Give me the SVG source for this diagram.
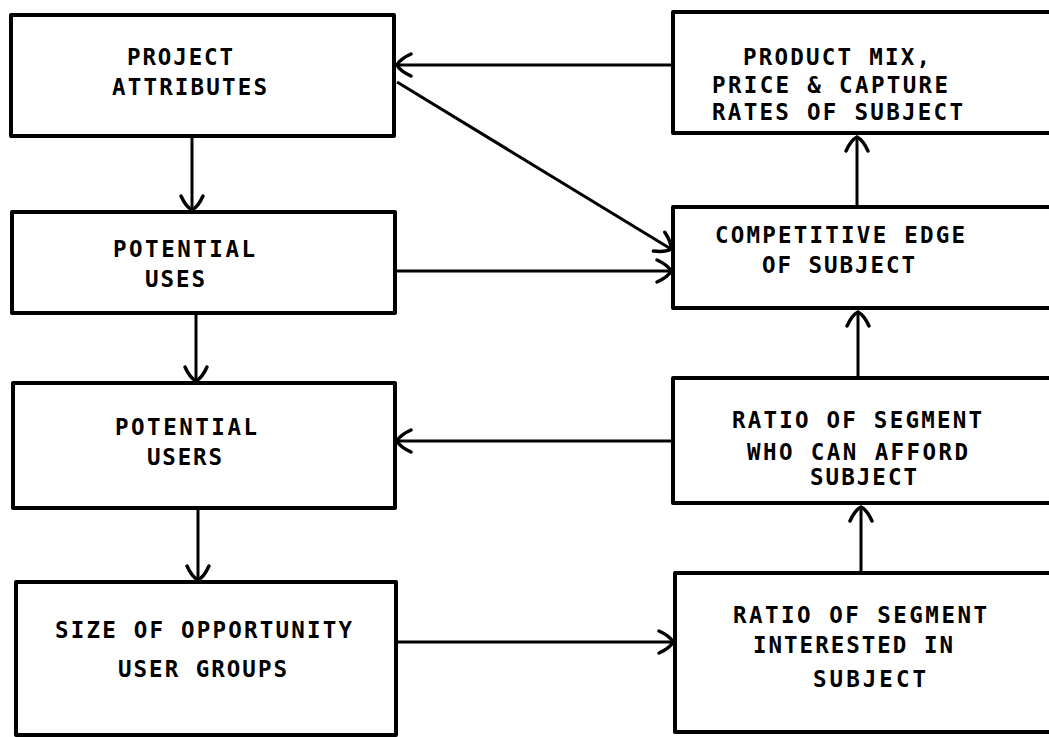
<svg xmlns="http://www.w3.org/2000/svg" width="1049" height="737" viewBox="0 0 1049 737">
  <defs>
    <style>
      .box { fill: #fff; stroke: #000; stroke-width: 4; stroke-linejoin: round; }
      .lbl { font-family: "DejaVu Sans Mono", "Liberation Mono", monospace; font-weight: bold; font-size: 22.5px; fill: #000; }
      .conn { fill: none; stroke: #000; stroke-width: 3; marker-end: url(#barb); }
    </style>
    <marker id="barb" viewBox="-18 -14 20 28" refX="0" refY="0" markerWidth="20" markerHeight="28" markerUnits="userSpaceOnUse" orient="auto">
      <path d="M-14,-11 Q-3,-6 0,0 Q-3,6 -14,11" fill="none" stroke="#000" stroke-width="3.5" stroke-linecap="round"/>
    </marker>
  </defs>
  <rect width="1049" height="737" fill="#fff"/>

  <g id="connectors">
    <line class="conn" x1="673" y1="65" x2="397" y2="65"/>
    <line class="conn" x1="397" y1="82" x2="671" y2="249"/>
    <line class="conn" x1="397" y1="271" x2="671" y2="271"/>
    <line class="conn" x1="857" y1="207" x2="857" y2="137"/>
    <line class="conn" x1="858" y1="378" x2="858" y2="312"/>
    <line class="conn" x1="673" y1="441" x2="397" y2="441"/>
    <line class="conn" x1="861" y1="573" x2="861" y2="507"/>
    <line class="conn" x1="192" y1="136" x2="192" y2="210"/>
    <line class="conn" x1="196" y1="313" x2="196" y2="381"/>
    <line class="conn" x1="198" y1="508" x2="198" y2="580"/>
    <line class="conn" x1="397" y1="642" x2="673" y2="642"/>
  </g>

  <g id="project-attributes">
    <rect class="box" x="11" y="15" width="383" height="121"/>
    <text class="lbl" x="127" y="65" textLength="106" lengthAdjust="spacing">PROJECT</text>
    <text class="lbl" x="112" y="95" textLength="155" lengthAdjust="spacing">ATTRIBUTES</text>
  </g>

  <g id="product-mix">
    <rect class="box" x="673" y="12" width="400" height="121"/>
    <text class="lbl" x="743" y="65" textLength="187" lengthAdjust="spacing">PRODUCT MIX,</text>
    <text class="lbl" x="712" y="93" textLength="236" lengthAdjust="spacing">PRICE &amp; CAPTURE</text>
    <text class="lbl" x="712" y="120" textLength="251" lengthAdjust="spacing">RATES OF SUBJECT</text>
  </g>

  <g id="potential-uses">
    <rect class="box" x="12" y="212" width="383" height="101"/>
    <text class="lbl" x="113" y="257" textLength="142" lengthAdjust="spacing">POTENTIAL</text>
    <text class="lbl" x="145" y="287" textLength="60" lengthAdjust="spacing">USES</text>
  </g>

  <g id="competitive-edge">
    <rect class="box" x="673" y="207" width="400" height="101"/>
    <text class="lbl" x="715" y="243" textLength="250" lengthAdjust="spacing">COMPETITIVE EDGE</text>
    <text class="lbl" x="762" y="273" textLength="153" lengthAdjust="spacing">OF SUBJECT</text>
  </g>

  <g id="potential-users">
    <rect class="box" x="13" y="383" width="382" height="125"/>
    <text class="lbl" x="115" y="435" textLength="142" lengthAdjust="spacing">POTENTIAL</text>
    <text class="lbl" x="147" y="465" textLength="75" lengthAdjust="spacing">USERS</text>
  </g>

  <g id="ratio-afford">
    <rect class="box" x="673" y="378" width="400" height="125"/>
    <text class="lbl" x="732" y="428" textLength="250" lengthAdjust="spacing">RATIO OF SEGMENT</text>
    <text class="lbl" x="747" y="460" textLength="221" lengthAdjust="spacing">WHO CAN AFFORD</text>
    <text class="lbl" x="810" y="485" textLength="107" lengthAdjust="spacing">SUBJECT</text>
  </g>

  <g id="opportunity-size">
    <rect class="box" x="16" y="582" width="380" height="153"/>
    <text class="lbl" x="55" y="638" textLength="297" lengthAdjust="spacing">SIZE OF OPPORTUNITY</text>
    <text class="lbl" x="118" y="677" textLength="169" lengthAdjust="spacing">USER GROUPS</text>
  </g>

  <g id="ratio-interested">
    <rect class="box" x="675" y="573" width="400" height="159"/>
    <text class="lbl" x="733" y="623" textLength="254" lengthAdjust="spacing">RATIO OF SEGMENT</text>
    <text class="lbl" x="753" y="653" textLength="200" lengthAdjust="spacing">INTERESTED IN</text>
    <text class="lbl" x="813" y="687" textLength="113" lengthAdjust="spacing">SUBJECT</text>
  </g>
</svg>
